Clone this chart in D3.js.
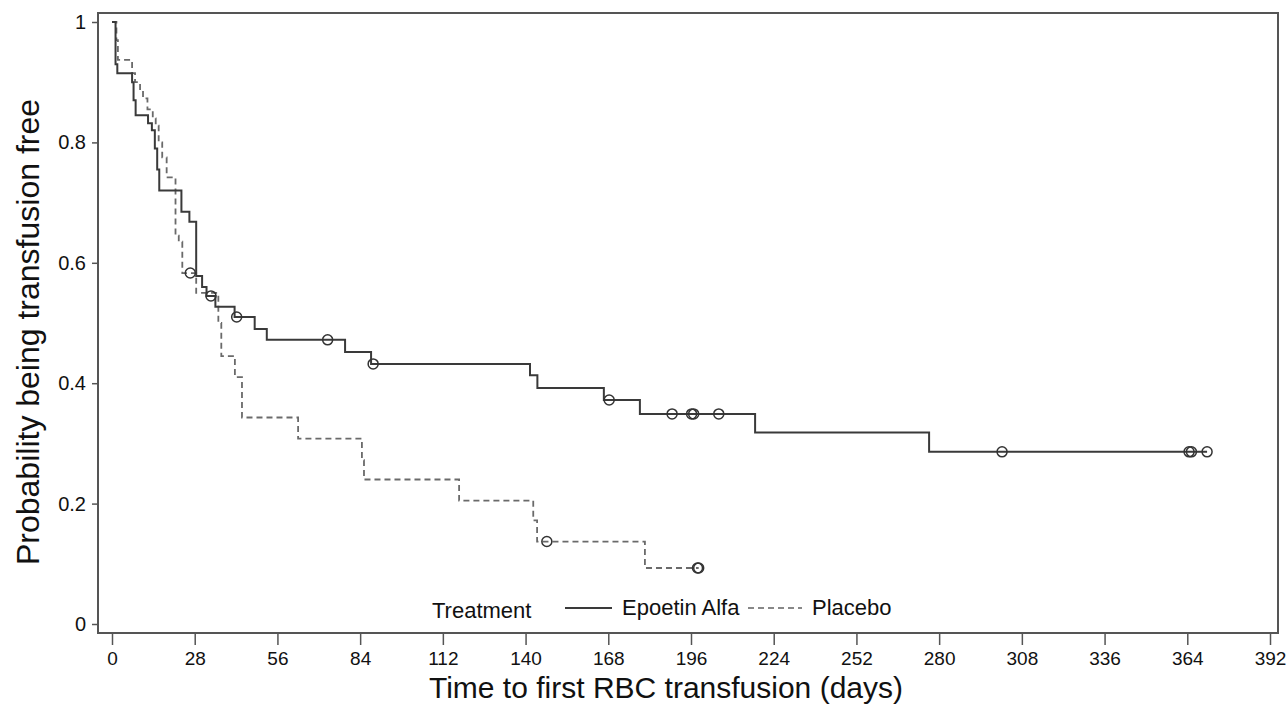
<!DOCTYPE html>
<html>
<head>
<meta charset="utf-8">
<script src="https://cdn.jsdelivr.net/npm/d3@7"></script>
<style>
  body { margin: 0; background: #fff; }
  text { font-family: "Liberation Sans", Arial, sans-serif; fill: #111; }
</style>
</head>
<body>
<div id="chart"></div>
<script>
// step events: [day, survival after that day]
var epoetinSteps = [
  [0, 1.0], [1.2, 0.93], [1.8, 0.915], [6.8, 0.90], [7.3, 0.87], [8.0, 0.845],
  [12.2, 0.832], [13.5, 0.82], [14.5, 0.79], [15.3, 0.755], [16.0, 0.72],
  [23.5, 0.685], [26.2, 0.668], [28.5, 0.578], [30.5, 0.56], [32.0, 0.545],
  [35.0, 0.527], [41.5, 0.51], [48.3, 0.49], [52.4, 0.472], [78.9, 0.452],
  [87.7, 0.432], [141.5, 0.413], [144.0, 0.392], [166.5, 0.372], [178.7, 0.349],
  [217.7, 0.318], [276.6, 0.286], [370.7, 0.286]
];
var epoetinCensored = [33.5, 42.2, 73.0, 88.4, 168.3, 189.6, 196.2, 196.9, 205.4, 301.3, 364.6, 365.4, 370.7];

var placeboSteps = [
  [0, 1.0], [1.5, 0.97], [2.0, 0.937], [6.8, 0.915], [7.8, 0.90], [9.5, 0.887],
  [10.5, 0.873], [12.0, 0.855], [13.8, 0.84], [14.8, 0.828], [15.8, 0.80],
  [17.0, 0.775], [18.5, 0.742], [21.5, 0.645], [22.6, 0.635], [23.8, 0.583],
  [28.5, 0.55], [36.0, 0.50], [37.0, 0.445], [41.6, 0.41], [44.0, 0.343],
  [63.0, 0.308], [84.6, 0.272], [85.3, 0.24], [117.5, 0.205], [142.6, 0.172],
  [143.9, 0.137], [180.4, 0.093], [198.6, 0.093]
];
var placeboCensored = [26.5, 147.2, 198.2, 198.6];

var xTicks = d3.range(0, 393, 28);
var yTicks = [0, 0.2, 0.4, 0.6, 0.8, 1];

var W = 1288, H = 723;
var frame = { left: 98, top: 13, right: 1278, bottom: 633 };

var svg = d3.select("#chart").append("svg")
  .attr("width", W)
  .attr("height", H);

var x = d3.scaleLinear().domain([0, 392]).range([112, 1270]);
var y = d3.scaleLinear().domain([0, 1]).range([624, 22]);

// frame
svg.append("rect")
  .attr("x", frame.left).attr("y", frame.top)
  .attr("width", frame.right - frame.left)
  .attr("height", frame.bottom - frame.top)
  .attr("fill", "none")
  .attr("stroke", "#555")
  .attr("stroke-width", 2);

// x axis
var xAxis = svg.append("g")
  .attr("transform", "translate(0," + frame.bottom + ")")
  .call(d3.axisBottom(x).tickValues(xTicks).tickSize(12).tickPadding(7).tickFormat(d3.format("d")));
xAxis.select(".domain").remove();
xAxis.selectAll("line").attr("stroke", "#555").attr("stroke-width", 1.5);
xAxis.selectAll("text").style("font-size", "19px").attr("fill", "#111");

// y axis
var yAxis = svg.append("g")
  .attr("transform", "translate(" + frame.left + ",0)")
  .call(d3.axisLeft(y).tickValues(yTicks).tickSize(6).tickPadding(6)
    .tickFormat(function (d) { return d === 0 || d === 1 ? d : d.toFixed(1); }));
yAxis.select(".domain").remove();
yAxis.selectAll("line").attr("stroke", "#555").attr("stroke-width", 1.5);
yAxis.selectAll("text").style("font-size", "20px").attr("fill", "#111");

// axis titles
svg.append("text")
  .attr("x", 666).attr("y", 698)
  .attr("text-anchor", "middle")
  .style("font-size", "30px")
  .text("Time to first RBC transfusion (days)");

svg.append("text")
  .attr("transform", "translate(39,332) rotate(-90)")
  .attr("text-anchor", "middle")
  .style("font-size", "32px")
  .text("Probability being transfusion free");

var line = d3.line()
  .x(function (d) { return x(d[0]); })
  .y(function (d) { return y(d[1]); })
  .curve(d3.curveStepAfter);

// value of a step curve at a given day
function survAt(steps, t) {
  var v = steps[0][1];
  steps.forEach(function (s) { if (s[0] <= t) v = s[1]; });
  return v;
}

svg.append("path")
  .datum(placeboSteps)
  .attr("d", line)
  .attr("fill", "none")
  .attr("stroke", "#6a6a6a")
  .attr("stroke-width", 1.8)
  .attr("stroke-dasharray", "6,4");

svg.append("path")
  .datum(epoetinSteps)
  .attr("d", line)
  .attr("fill", "none")
  .attr("stroke", "#3a3a3a")
  .attr("stroke-width", 2);

// censor marks
svg.selectAll(".cP")
  .data(placeboCensored)
  .enter().append("circle")
  .attr("cx", function (d) { return x(d); })
  .attr("cy", function (d) { return y(survAt(placeboSteps, d)); })
  .attr("r", 5)
  .attr("fill", "none")
  .attr("stroke", "#333")
  .attr("stroke-width", 1.5);

svg.selectAll(".cE")
  .data(epoetinCensored)
  .enter().append("circle")
  .attr("cx", function (d) { return x(d); })
  .attr("cy", function (d) { return y(survAt(epoetinSteps, d)); })
  .attr("r", 5)
  .attr("fill", "none")
  .attr("stroke", "#333")
  .attr("stroke-width", 1.5);

// legend
var lg = svg.append("g");
lg.append("text").attr("x", 432).attr("y", 618).style("font-size", "22px").text("Treatment");
lg.append("line").attr("x1", 565).attr("x2", 612).attr("y1", 608).attr("y2", 608)
  .attr("stroke", "#3a3a3a").attr("stroke-width", 2);
lg.append("text").attr("x", 622).attr("y", 615).style("font-size", "22px").text("Epoetin Alfa");
lg.append("line").attr("x1", 748).attr("x2", 802).attr("y1", 608).attr("y2", 608)
  .attr("stroke", "#888").attr("stroke-width", 1.8).attr("stroke-dasharray", "6,4");
lg.append("text").attr("x", 812).attr("y", 615).style("font-size", "22px").text("Placebo");
</script>
</body>
</html>
